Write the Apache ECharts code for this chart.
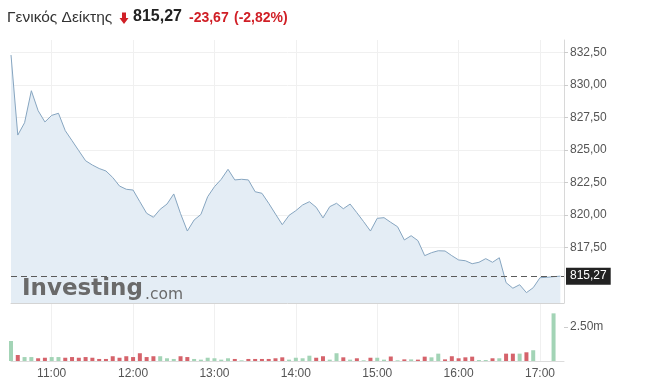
<!DOCTYPE html>
<html><head><meta charset="utf-8">
<script src="https://cdn.jsdelivr.net/npm/echarts@6/dist/echarts.min.js"></script>
<style>html,body{margin:0;padding:0;background:#fff}#c{width:645px;height:387px}</style>
</head><body><div id="c"></div>
<script>
const times = [
"10:30","10:35","10:40","10:45","10:50","10:55",
"11:00","11:05","11:10","11:15","11:20","11:25","11:30","11:35","11:40","11:45","11:50","11:55",
"12:00","12:05","12:10","12:15","12:20","12:25","12:30","12:35","12:40","12:45","12:50","12:55",
"13:00","13:05","13:10","13:15","13:20","13:25","13:30","13:35","13:40","13:45","13:50","13:55",
"14:00","14:05","14:10","14:15","14:20","14:25","14:30","14:35","14:40","14:45","14:50","14:55",
"15:00","15:05","15:10","15:15","15:20","15:25","15:30","15:35","15:40","15:45","15:50","15:55",
"16:00","16:05","16:10","16:15","16:20","16:25","16:30","16:35","16:40","16:45","16:50","16:55",
"17:00","17:05","17:10","17:15"];
const prices = [
832.32,826.15,827.10,829.57,828.03,827.16,
827.67,827.83,826.49,825.72,824.94,824.17,823.84,823.57,823.38,822.88,822.22,821.97,
821.91,821.01,820.12,819.81,820.43,820.83,821.61,820.09,818.75,819.60,820.03,821.40,
822.17,822.74,823.51,822.69,822.74,822.69,821.78,821.66,820.89,820.06,819.24,819.96,
820.32,820.76,821.01,820.58,819.76,820.63,820.89,820.47,820.83,820.16,819.47,818.75,
819.73,819.78,819.42,819.08,818.06,818.39,818.01,816.85,817.08,817.23,817.21,816.85,
816.52,816.46,816.23,816.34,816.62,816.34,816.69,814.77,814.34,814.61,814.00,814.38,
815.15,815.18,815.23,815.27];
const volumes = [
1.47,0.44,0.29,0.29,0.20,0.24,
0.29,0.29,0.24,0.29,0.24,0.29,0.24,0.15,0.15,0.35,0.24,0.35,
0.29,0.57,0.29,0.35,0.35,0.20,0.15,0.35,0.29,0.15,0.10,0.24,
0.20,0.10,0.20,0.15,0.05,0.15,0.15,0.15,0.15,0.20,0.27,0.10,
0.24,0.20,0.39,0.24,0.35,0.10,0.57,0.27,0.10,0.20,0.05,0.24,
0.24,0.10,0.33,0.05,0.12,0.12,0.10,0.32,0.27,0.54,0.12,0.35,
0.20,0.27,0.32,0.07,0.07,0.20,0.20,0.54,0.54,0.54,0.64,0.79,
null,null,3.50,null];
const volUp = [
1,0,1,1,0,0,
1,1,0,0,0,0,0,0,0,0,0,0,
0,0,0,0,1,1,1,0,0,1,1,1,
1,1,1,0,1,0,0,0,0,0,0,1,
1,1,1,0,0,1,1,0,1,0,1,0,
1,1,0,1,0,1,0,0,1,1,0,0,
0,0,0,1,1,0,1,0,0,1,0,1,
null,null,1,null];
const priceTicks = [817.5, 820, 822.5, 825, 827.5, 830, 832.5];
const hourTicks = ["11:00","12:00","13:00","14:00","15:00","16:00","17:00"];
const volTicks = [2.5];
const lastPrice = 815.27;
const header = {name: "Γενικός Δείκτης", last: "815,27", change: "-23,67", pct: "(-2,82%)"};

function toMin(t){const p=t.split(':');return (+p[0])*60+(+p[1]);}
function toHM(m){const h=Math.floor(m/60), mm=Math.round(m%60);return h+':'+(mm<10?'0':'')+mm;}
const fmtNum = v => v.toFixed(2).replace('.', ',');
const hourVals = hourTicks.map(toMin);

const GREEN = '#a3d4b6', RED = '#d5636b';
const RED_TXT = '#d01f26';
const gridCol = '#f0f0f0';

const chart = echarts.init(document.getElementById('c'), null, {renderer:'canvas'});
chart.setOption({
  animation: false,
  textStyle: {fontFamily: 'Liberation Sans, Arial, sans-serif'},
  grid: [
    {left: 11, right: 81, top: 40, bottom: 84},
    {left: 11, right: 81, top: 303, bottom: 26}
  ],
  xAxis: [
    {type: 'value', gridIndex: 0, min: toMin(times[0]), max: 1037.7,
     axisLine: {show: true, lineStyle: {color: '#d4d4d4'}},
     axisTick: {show: false, customValues: hourVals},
     axisLabel: {show: false, customValues: hourVals},
     splitLine: {show: true, lineStyle: {color: gridCol}}},
    {type: 'value', gridIndex: 1, min: toMin(times[0]), max: 1037.7,
     axisLine: {show: true, lineStyle: {color: '#dcdcdc'}},
     axisTick: {show: false, customValues: hourVals},
     axisLabel: {show: true, customValues: hourVals, formatter: v => toHM(v), color: '#555', fontSize: 12, margin: 7},
     splitLine: {show: true, lineStyle: {color: gridCol}}}
  ],
  yAxis: [
    {type: 'value', gridIndex: 0, position: 'right', min: 813.2, max: 833.48, scale: true,
     axisLine: {show: true, lineStyle: {color: '#d8d8d8'}},
     axisTick: {show: true, length: 4, lineStyle: {color: '#ccc'}, customValues: priceTicks},
     axisLabel: {customValues: priceTicks, formatter: v => fmtNum(v), color: '#555', fontSize: 12, margin: 6},
     splitLine: {show: true, lineStyle: {color: gridCol}}},
    {type: 'value', gridIndex: 1, position: 'right', min: 0, max: 4.26,
     axisLine: {show: false},
     axisTick: {show: true, length: 4, lineStyle: {color: '#ccc'}, customValues: volTicks},
     axisLabel: {customValues: volTicks, formatter: v => v.toFixed(2) + 'm', color: '#555', fontSize: 12, margin: 6},
     splitLine: {show: false}}
  ],
  series: [
    {type: 'line', xAxisIndex: 0, yAxisIndex: 0,
     data: prices.map((p, i) => [toMin(times[i]), p]),
     showSymbol: false, symbol: 'none',
     lineStyle: {color: '#86a5c0', width: 1},
     areaStyle: {color: '#e4edf5', opacity: 1, origin: 'start'},
     markLine: {
       silent: true, symbol: 'none', animation: false,
       lineStyle: {color: '#5a5a5a', type: [6, 4], width: 1},
       label: {show: true, position: 'end', distance: 2, formatter: () => fmtNum(lastPrice),
               backgroundColor: '#222', color: '#fff', fontSize: 12, padding: [3, 4, 2, 4]},
       data: [{yAxis: lastPrice}]
     }},
    {type: 'bar', xAxisIndex: 1, yAxisIndex: 1, barWidth: 4,
     data: volumes.map((v, i) => v == null ? null : {value: [toMin(times[i]), v], itemStyle: {color: volUp[i] ? GREEN : RED}})}
  ],
  graphic: [
    {type: 'text', left: 7, top: 10, style: {text: header.name, font: '15.5px "Liberation Sans", Arial', fill: '#333'}},
    {type: 'polygon', shape: {points: [[122,12.5],[126,12.5],[126,18],[128.5,18],[124,24],[119.5,18],[122,18]]}, style: {fill: RED_TXT}},
    {type: 'text', left: 133, top: 9, style: {text: header.last, font: 'bold 16px "Liberation Sans", Arial', fill: '#222'}},
    {type: 'text', left: 189, top: 11, style: {text: header.change, font: 'bold 14px "Liberation Sans", Arial', fill: RED_TXT}},
    {type: 'text', left: 234, top: 11, style: {text: header.pct, font: 'bold 14px "Liberation Sans", Arial', fill: RED_TXT}},
    {type: 'text', left: 22, top: 278, z: 100, style: {text: 'Investing', font: 'bold 23px "DejaVu Sans"', fill: '#6a6a6a'}},
    {type: 'text', left: 145, top: 287, z: 100, style: {text: '.com', font: '15.5px "DejaVu Sans"', fill: '#6a6a6a'}}
  ]
});
</script></body></html>
